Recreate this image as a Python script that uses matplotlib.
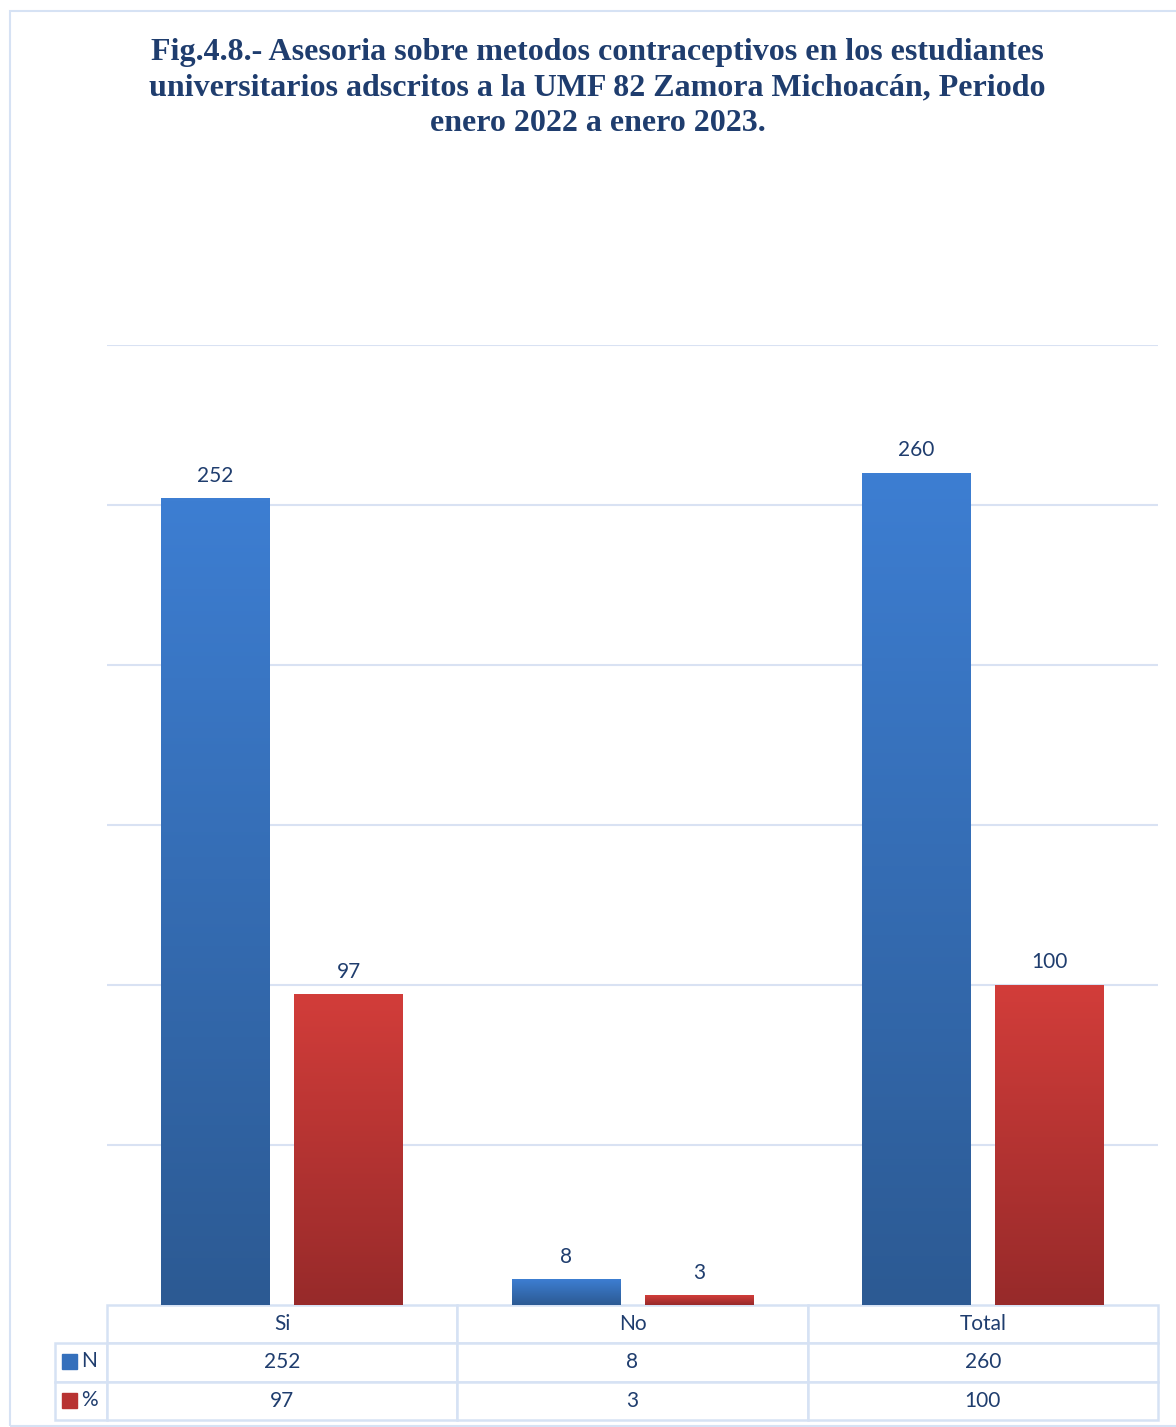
import numpy as np
import matplotlib
matplotlib.use('Agg')
import matplotlib.pyplot as plt
from matplotlib.patches import Rectangle
from matplotlib.colors import LinearSegmentedColormap

# datos de la figura
categorias = ['Si', 'No', 'Total']
serie_n = [252, 8, 260]
serie_pct = [97, 3, 100]
series = ['N', '%']

titulo = ('Fig.4.8.- Asesoria sobre metodos contraceptivos en los estudiantes\n'
          'universitarios adscritos a la UMF 82 Zamora Michoacán, Periodo\n'
          'enero 2022 a enero 2023.')

azul_txt = '#1F3D6E'
borde = '#D6E2F4'

cmap_azul = LinearSegmentedColormap.from_list('azul', ['#2C5A93', '#3D7ED2'])
cmap_rojo = LinearSegmentedColormap.from_list('rojo', ['#972A2A', '#D23D3A'])

fig = plt.figure(figsize=(11.76, 14.27), dpi=100)
fig.patches.append(Rectangle((10 / 1176, 1 / 1427), 1.2, 1 - 12 / 1427,
                             transform=fig.transFigure, fill=False,
                             edgecolor=borde, linewidth=1.5))

fig.text(0.508, 1 - 38 / 1427, titulo, ha='center', va='top',
         family='Liberation Serif', fontweight='bold', fontsize=23,
         color=azul_txt, linespacing=1.3)

ax = fig.add_axes([107 / 1176, 1 - 1305 / 1427, 1051 / 1176, 960 / 1427])
for s in ax.spines.values():
    s.set_visible(False)
ax.set_xticks([])
ax.set_yticks(np.arange(50, 301, 50))
ax.tick_params(axis='y', length=0, labelleft=False)
ax.grid(axis='y', color='#D9E2F3', linewidth=1.5)
ax.set_axisbelow(True)

x = np.arange(len(categorias)) + 0.5
ancho = 0.31
grad = np.linspace(0, 1, 256).reshape(-1, 1)

for valores, desp, cmap in [(serie_n, -0.19, cmap_azul), (serie_pct, 0.19, cmap_rojo)]:
    barras = ax.bar(x + desp, valores, width=ancho, color='none', zorder=3)
    for b, v in zip(barras, valores):
        x0 = b.get_x()
        ax.imshow(grad, cmap=cmap, origin='lower', aspect='auto', zorder=3,
                  extent=[x0, x0 + b.get_width(), 0, b.get_height()])
        ax.annotate(str(v), (x0 + b.get_width() / 2, b.get_height()),
                    xytext=(0, 9), textcoords='offset points', ha='center',
                    va='bottom', fontsize=15, color=azul_txt, family='Lato')
ax.set_xlim(0, 3)
ax.set_ylim(0, 300)

# tabla de datos (primera columna = rotulos de serie)
alto_tabla = 115 / 960
ancho_rot = 52 / 1051
filas = [[''] + [str(v) for v in serie_n], [''] + [str(v) for v in serie_pct]]
tabla = ax.table(cellText=filas, colLabels=[''] + categorias, cellLoc='center',
                 colWidths=[ancho_rot, 1 / 3, 1 / 3, 1 / 3],
                 bbox=[-ancho_rot, -alto_tabla, 1 + ancho_rot, alto_tabla])
tabla.auto_set_font_size(False)
for (r, c), celda in tabla.get_celld().items():
    celda.set_edgecolor(borde)
    celda.set_linewidth(1.8)
    celda.get_text().set_fontsize(15)
    celda.get_text().set_color(azul_txt)
    celda.get_text().set_family('Lato')
    if r == 0 and c == 0:
        celda.set_visible(False)

# marcadores de la leyenda en la tabla
filas_y = [1 - (1361 - 345) / 960, 1 - (1400 - 345) / 960]
for nombre, color, fy in zip(series, ['#3570BC', '#B83332'], filas_y):
    ax.add_patch(Rectangle((-45 / 1051, fy - 7.5 / 960), 15 / 1051, 15 / 960,
                           transform=ax.transAxes, color=color, clip_on=False, zorder=5))
    ax.text(-26 / 1051, fy, nombre, transform=ax.transAxes, ha='left', va='center',
            fontsize=15, color=azul_txt, family='Lato')

fig.savefig('out.png', dpi=100)
